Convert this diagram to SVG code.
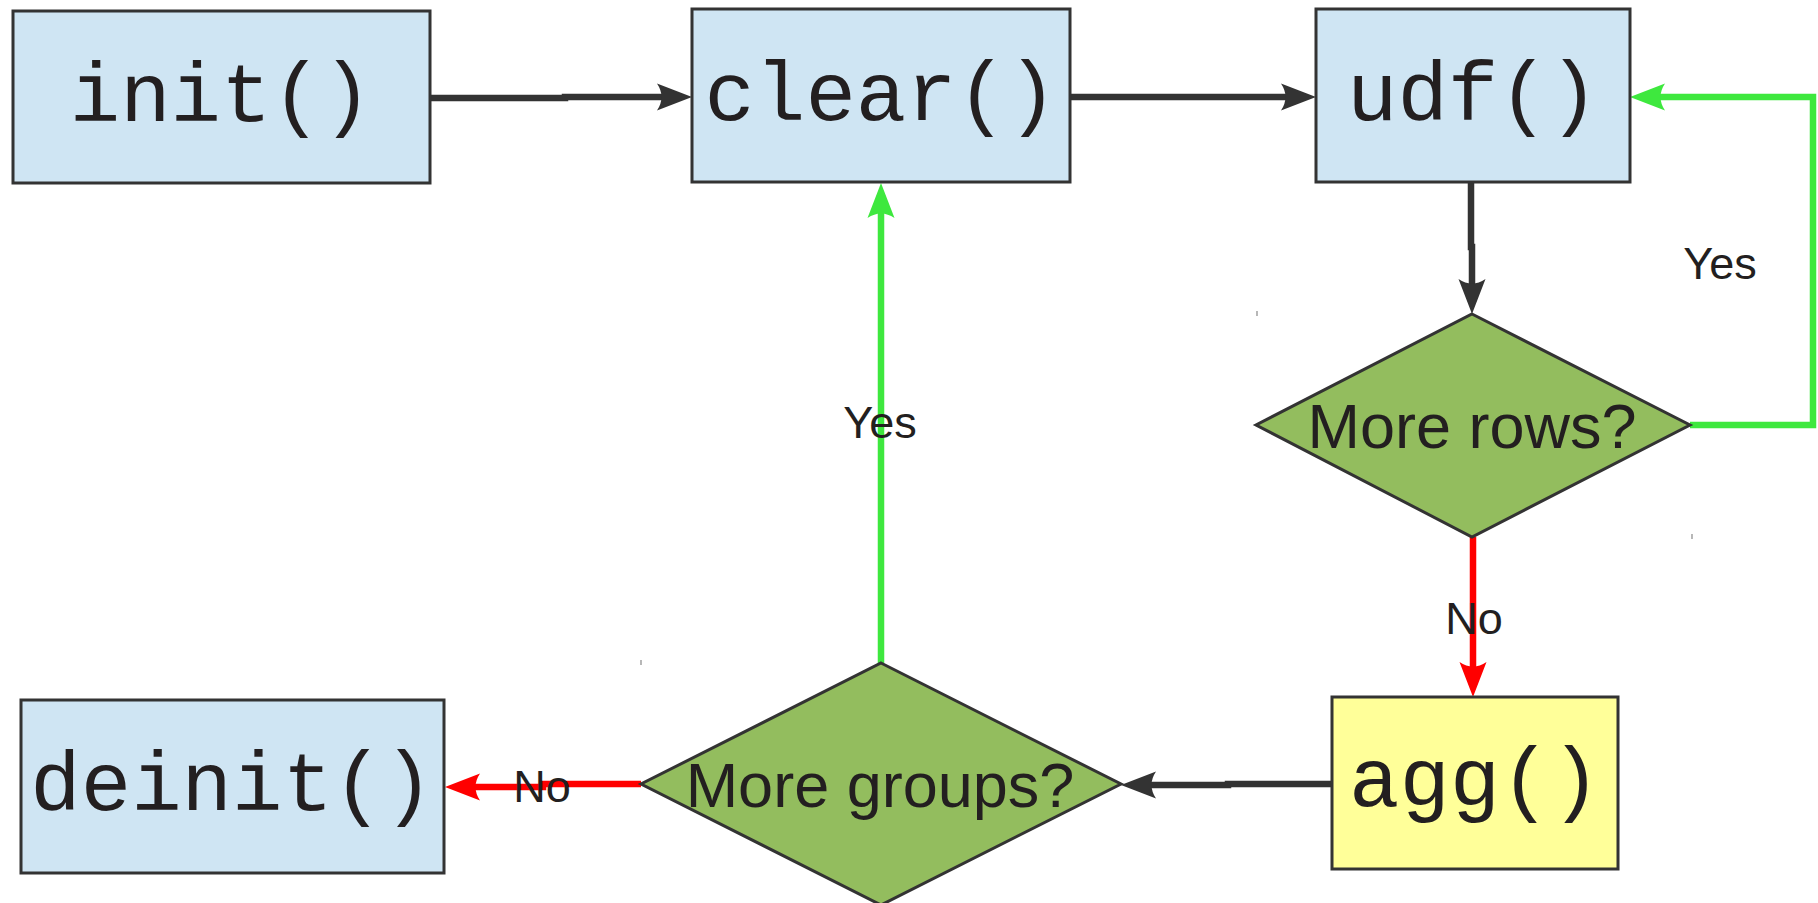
<svg xmlns="http://www.w3.org/2000/svg" width="1818" height="903" viewBox="0 0 1818 903">
<style>
.box{stroke:#333333;stroke-width:3}
.blue{fill:#cfe5f3}
.yellow{fill:#ffff99}
.dia{fill:#93bd5e;stroke:#333333;stroke-width:3;stroke-linejoin:miter}
.mono{font-family:"Liberation Mono","Courier New",monospace;font-size:84px;fill:#231f20;text-anchor:middle}
.sans{font-family:"Liberation Sans",Arial,sans-serif;fill:#231f20;text-anchor:middle}
.q{font-size:63px}
.lbl{font-size:45px}
.c{fill:none;stroke-width:6.5;stroke-linejoin:miter}
.dark{stroke:#333333}
.green{stroke:#3ee83e}
.red{stroke:#ff0000}
.tick{stroke:#888888;stroke-width:1.2}
</style>
<defs>
<marker id="aDark" markerUnits="userSpaceOnUse" viewBox="0 -15 36 30" markerWidth="36" markerHeight="30" refX="7" refY="0" orient="auto">
<path d="M35,0 L0,-13.5 Q9,0 0,13.5 Z" fill="#333333"/>
</marker>
<marker id="aGreen" markerUnits="userSpaceOnUse" viewBox="0 -15 36 30" markerWidth="36" markerHeight="30" refX="7" refY="0" orient="auto">
<path d="M35,0 L0,-13.5 Q9,0 0,13.5 Z" fill="#3ee83e"/>
</marker>
<marker id="aRed" markerUnits="userSpaceOnUse" viewBox="0 -15 36 30" markerWidth="36" markerHeight="30" refX="7" refY="0" orient="auto">
<path d="M35,0 L0,-13.5 Q9,0 0,13.5 Z" fill="#ff0000"/>
</marker>
</defs>
<rect width="1818" height="903" fill="#ffffff"/>

<g id="connectors">
<path class="c dark" d="M430,98 H565 V97 H664" marker-end="url(#aDark)"/>
<path class="c dark" d="M1070,97 H1288" marker-end="url(#aDark)"/>
<path class="c dark" d="M1471,183 V247 H1472 V286" marker-end="url(#aDark)"/>
<path class="c green" d="M1690,425 H1813 V97 H1658" marker-end="url(#aGreen)"/>
<path class="c red" d="M1473,537 V669" marker-end="url(#aRed)"/>
<path class="c dark" d="M1332,784 H1228 V785 H1149" marker-end="url(#aDark)"/>
<path class="c green" d="M881,663 V211" marker-end="url(#aGreen)"/>
<path class="c red" d="M641,784 H543 V787 H473" marker-end="url(#aRed)"/>
<text class="sans lbl" x="1720" y="279">Yes</text>
<text class="sans lbl" x="1474" y="634">No</text>
<text class="sans lbl" x="880" y="438">Yes</text>
<text class="sans lbl" x="542" y="802">No</text>
</g>

<g id="init">
<rect class="box blue" x="13" y="11" width="417" height="172"/>
<text class="mono" x="221" y="121">init()</text>
</g>
<g id="clear">
<rect class="box blue" x="692" y="9" width="378" height="173"/>
<text class="mono" x="881" y="120">clear()</text>
</g>
<g id="udf">
<rect class="box blue" x="1316" y="9" width="314" height="173"/>
<text class="mono" x="1473" y="120">udf()</text>
</g>
<g id="more_rows">
<polygon class="dia" points="1472,314 1690,425 1472,537 1256,425"/>
<text class="sans q" x="1472" y="448">More rows?</text>
<line class="tick" x1="1257" y1="311" x2="1257" y2="316"/>
<line class="tick" x1="1692" y1="534" x2="1692" y2="539"/>
</g>
<g id="agg">
<rect class="box yellow" x="1332" y="697" width="286" height="172"/>
<text class="mono" x="1475" y="806">agg()</text>
</g>
<g id="more_groups">
<polygon class="dia" points="881,663 1121,784 881,905 641,784"/>
<text class="sans q" x="880" y="807">More groups?</text>
<line class="tick" x1="641" y1="660" x2="641" y2="665"/>
</g>
<g id="deinit">
<rect class="box blue" x="21" y="700" width="423" height="173"/>
<text class="mono" x="232" y="810">deinit()</text>
</g>
</svg>
